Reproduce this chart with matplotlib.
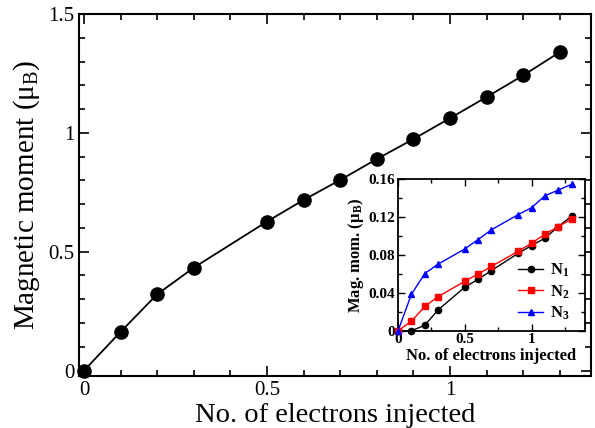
import matplotlib
matplotlib.use("Agg")
import matplotlib.pyplot as plt
from matplotlib.ticker import MultipleLocator

plt.rcParams['font.family'] = ['Liberation Serif', 'DejaVu Serif']
plt.rcParams['mathtext.fontset'] = 'custom'
plt.rcParams['mathtext.rm'] = 'Liberation Serif'
plt.rcParams['mathtext.it'] = 'Liberation Serif:italic'
plt.rcParams['mathtext.bf'] = 'Liberation Serif:bold'

# Main data
electrons = [0, 0.1, 0.2, 0.3, 0.5, 0.6, 0.7, 0.8, 0.9, 1.0, 1.1, 1.2, 1.3]
moment = [0.0, 0.163, 0.321, 0.433, 0.627, 0.718, 0.802, 0.890, 0.974, 1.062, 1.151, 1.242, 1.340]

# Inset data
inset_x = [0, 0.1, 0.2, 0.3, 0.5, 0.6, 0.7, 0.9, 1.0, 1.1, 1.2, 1.3]
n1 = [0, 0.0, 0.0057, 0.022, 0.046, 0.0544, 0.0636, 0.0818, 0.090, 0.0978, 0.110, 0.121]
n2 = [0, 0.010, 0.0256, 0.036, 0.0523, 0.060, 0.068, 0.084, 0.0924, 0.102, 0.110, 0.118]
n3 = [0, 0.0384, 0.0604, 0.0704, 0.0864, 0.0964, 0.1067, 0.1227, 0.130, 0.1426, 0.1486, 0.1547]

fig = plt.figure(figsize=(5.95, 4.28), dpi=100)
ax = fig.add_axes([0.1328, 0.1215, 0.993 - 0.1328, 0.967 - 0.1215])
ax.plot(electrons, moment, 'k-', marker='o', markersize=9.5, lw=1.3, clip_on=False, zorder=3)
ax.set_xlim(-0.0137, 1.385)
ax.set_ylim(-0.023, 1.5)
ax.xaxis.set_minor_locator(MultipleLocator(0.1))
ax.yaxis.set_minor_locator(MultipleLocator(0.1))
ax.set_xticks([0, 0.5, 1])
ax.set_xticklabels(['0', '0.5', '1'])
ax.set_yticks([0, 0.5, 1, 1.5])
ax.set_yticklabels(['0', '0.5', '1', '1.5'])
ax.tick_params(which='both', direction='in', top=True, right=True, labelsize=15, width=1.2)
ax.tick_params(which='major', length=7)
ax.tick_params(which='minor', length=4)
for s in ax.spines.values():
    s.set_linewidth(1.5)
ax.set_xlabel('No. of electrons injected', fontsize=20.5, labelpad=2)
ax.set_ylabel('Magnetic moment (μ$_\\mathrm{B}$)', fontsize=21, labelpad=4)

# Inset
ai = fig.add_axes([0.669, 0.2273, 0.983 - 0.669, 0.581 - 0.2273])
ai.plot(inset_x, n1, color='black', marker='o', markersize=4.5, lw=1.0, label=r'$\mathbf{N_1}$', clip_on=False, zorder=3)
ai.plot(inset_x, n2, color='red', marker='s', markersize=4.5, lw=1.0, label=r'$\mathbf{N_2}$', clip_on=False, zorder=3)
ai.plot(inset_x, n3, color='blue', marker='^', markersize=5, lw=1.0, label=r'$\mathbf{N_3}$', clip_on=False, zorder=3)
ai.set_xlim(0, 1.4)
ai.set_ylim(0, 0.16)
ai.set_xticks([0, 0.5, 1])
ai.set_xticklabels(['0', '0.5', '1'])
ai.xaxis.set_minor_locator(MultipleLocator(0.25))
ai.set_yticks([0, 0.04, 0.08, 0.12, 0.16])
ai.set_yticklabels(['0', '0.04', '0.08', '0.12', '0.16'])
ai.yaxis.set_minor_locator(MultipleLocator(0.02))
ai.tick_params(which='both', direction='in', top=True, right=True, labelsize=11, width=1.0, pad=2)
ai.tick_params(which='major', length=5)
ai.tick_params(which='minor', length=3)
for lbl in ai.get_xticklabels() + ai.get_yticklabels():
    lbl.set_fontweight('bold')
for s in ai.spines.values():
    s.set_linewidth(1.3)
ai.set_xlabel('No. of electrons injected', fontsize=12, fontweight='bold', labelpad=1)
ai.set_ylabel('Mag. mom. (μ$_\\mathbf{B}$)', fontsize=12, fontweight='bold', labelpad=2)
ai.legend(loc='lower right', frameon=False, fontsize=12, handlelength=1.5,
          handletextpad=0.4, borderaxespad=0.3, labelspacing=0.25,
          bbox_to_anchor=(0.98, -0.02))

fig.savefig('out.png', dpi=100)
